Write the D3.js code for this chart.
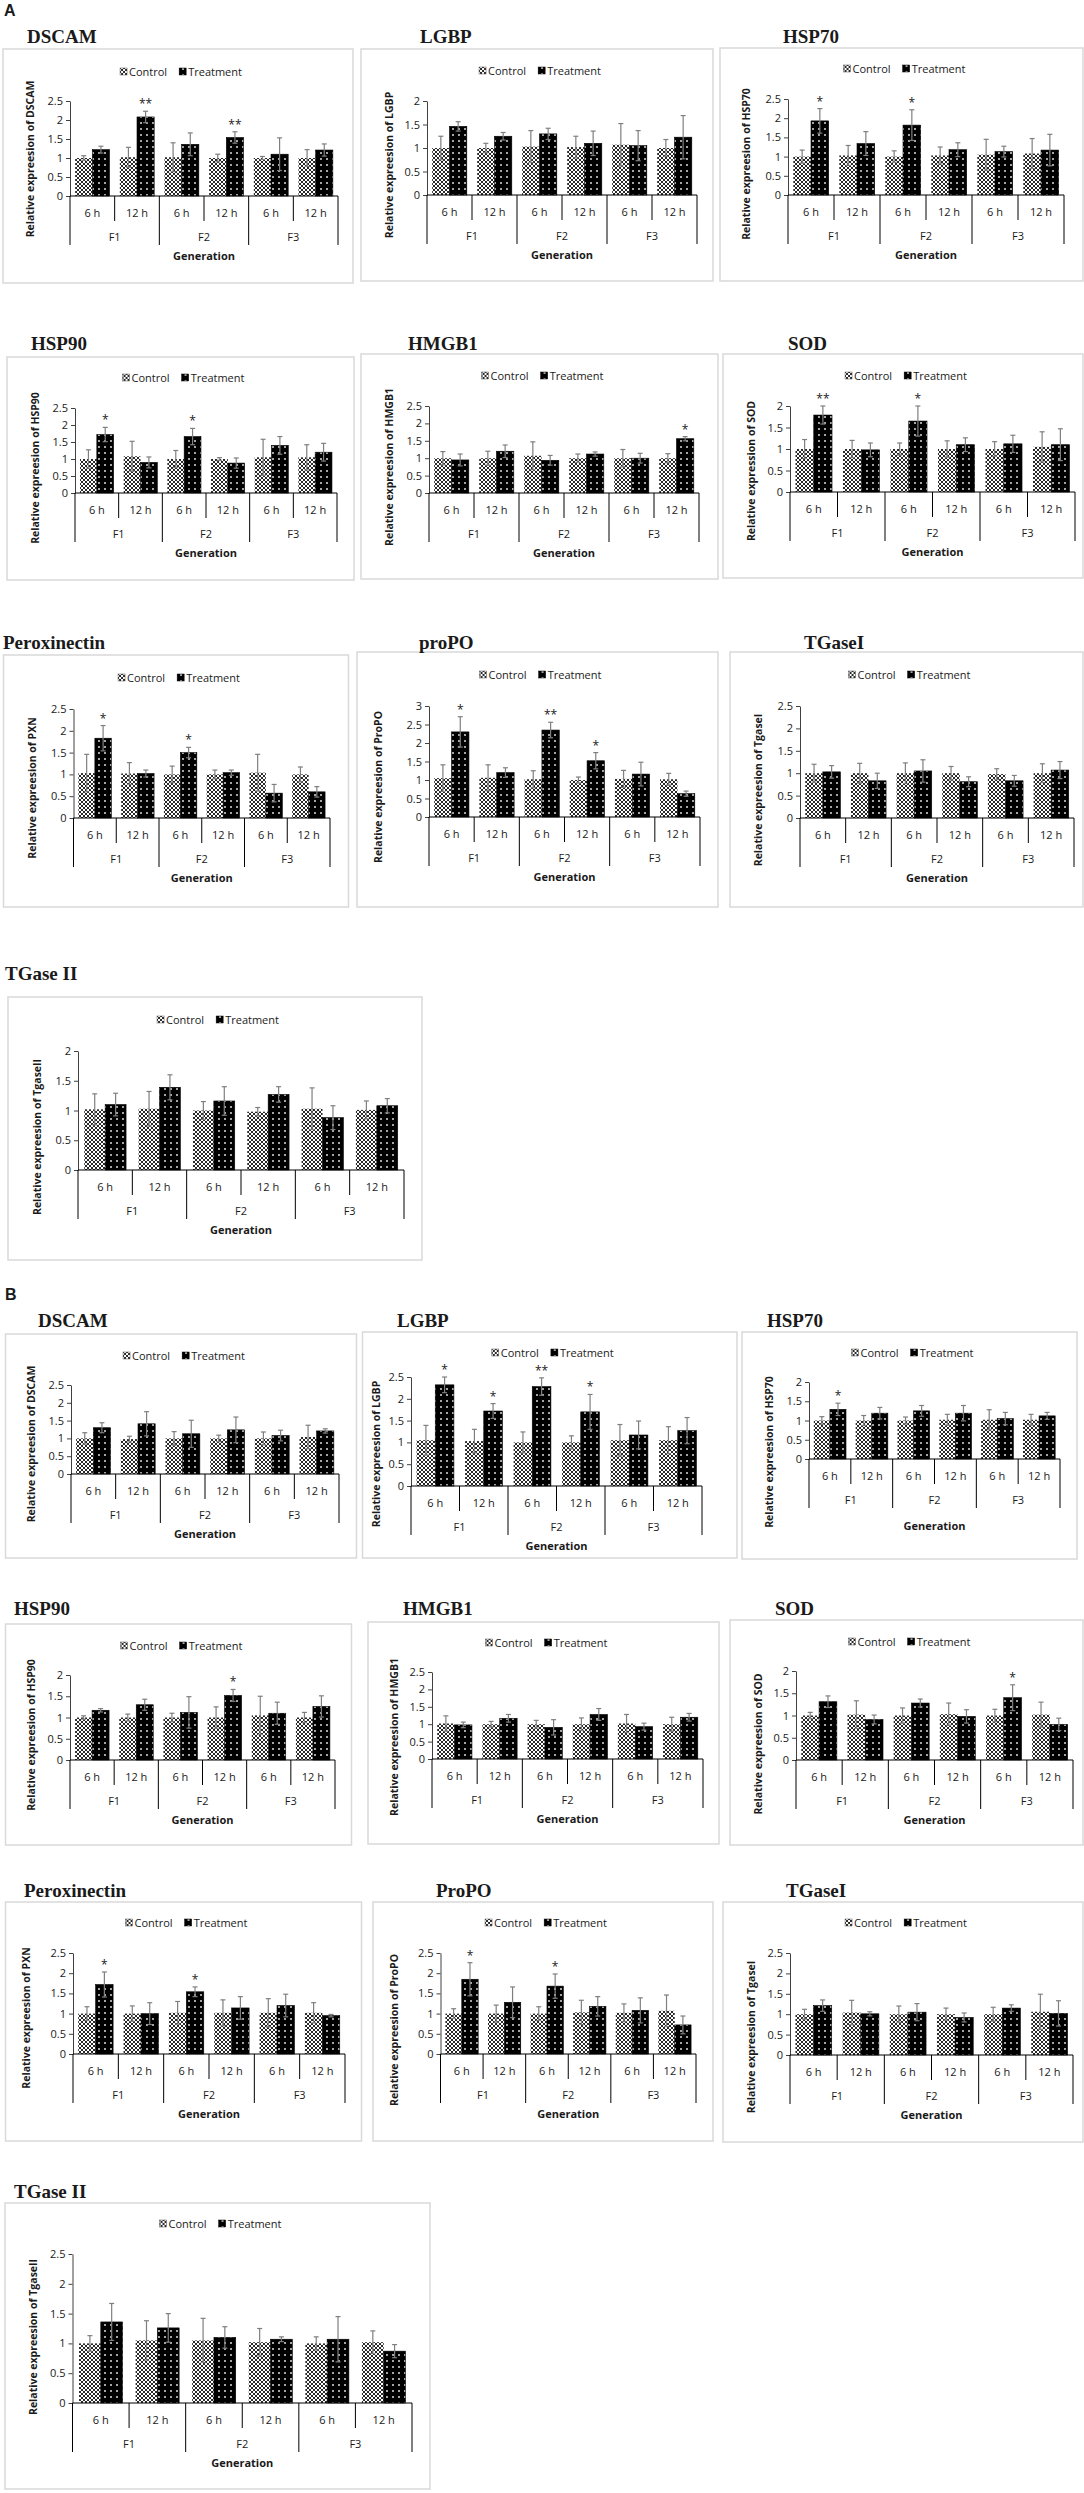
<!DOCTYPE html>
<html>
<head>
<meta charset="utf-8">
<script src="https://cdn.jsdelivr.net/npm/d3@7"></script>
<style>
body { margin: 0; background: #fff; }
svg { display: block; }
text { font-family: "Open Sans", "Liberation Sans", sans-serif; fill: #1a1a1a; }
.ttl { font-family: "Liberation Serif", "Times New Roman", serif; font-weight: bold; font-size: 19px; }
</style>
</head>
<body>
<svg id="chart"></svg>
<script>
// category labels
const hours = ["6 h", "12 h", "6 h", "12 h", "6 h", "12 h"];
const generations = ["F1", "F2", "F3"];
const series = ["Control", "Treatment"];

// ---- panel A ----
const aDscamCtrl = [1.0, 1.02, 1.02, 1.0, 1.0, 1.0];
const aDscamCtrlErr = [0.06, 0.26, 0.38, 0.1, 0.04, 0.22];
const aDscamTrt = [1.22, 2.08, 1.36, 1.54, 1.1, 1.21];
const aDscamTrtErr = [0.09, 0.15, 0.3, 0.15, 0.43, 0.16];
const aDscamSig = ["", "**", "", "**", "", ""];

const aLgbpCtrl = [1.0, 1.0, 1.03, 1.02, 1.07, 1.0];
const aLgbpCtrlErr = [0.25, 0.1, 0.34, 0.23, 0.45, 0.18];
const aLgbpTrt = [1.46, 1.25, 1.3, 1.1, 1.05, 1.23];
const aLgbpTrtErr = [0.1, 0.08, 0.12, 0.26, 0.32, 0.46];
const aLgbpSig = ["", "", "", "", "", ""];

const aHsp70Ctrl = [1.0, 1.03, 1.0, 1.03, 1.05, 1.08];
const aHsp70CtrlErr = [0.17, 0.26, 0.15, 0.22, 0.4, 0.39];
const aHsp70Trt = [1.93, 1.34, 1.82, 1.18, 1.13, 1.17];
const aHsp70TrtErr = [0.32, 0.31, 0.4, 0.18, 0.14, 0.41];
const aHsp70Sig = ["*", "", "*", "", "", ""];

const aHsp90Ctrl = [1.0, 1.08, 1.0, 1.0, 1.05, 1.05];
const aHsp90CtrlErr = [0.27, 0.44, 0.25, 0.04, 0.53, 0.37];
const aHsp90Trt = [1.72, 0.9, 1.66, 0.88, 1.4, 1.2];
const aHsp90TrtErr = [0.21, 0.16, 0.24, 0.15, 0.26, 0.26];
const aHsp90Sig = ["*", "", "*", "", "", ""];

const aHmgb1Ctrl = [1.0, 1.0, 1.07, 1.0, 1.0, 1.0];
const aHmgb1CtrlErr = [0.19, 0.2, 0.4, 0.12, 0.25, 0.13];
const aHmgb1Trt = [0.95, 1.2, 0.94, 1.12, 1.0, 1.56];
const aHmgb1TrtErr = [0.17, 0.18, 0.14, 0.06, 0.14, 0.06];
const aHmgb1Sig = ["", "", "", "", "", "*"];

const aSodCtrl = [1.0, 1.0, 1.0, 1.0, 1.0, 1.05];
const aSodCtrlErr = [0.22, 0.2, 0.14, 0.19, 0.17, 0.35];
const aSodTrt = [1.79, 0.98, 1.65, 1.1, 1.12, 1.1];
const aSodTrtErr = [0.21, 0.16, 0.35, 0.16, 0.2, 0.37];
const aSodSig = ["**", "", "*", "", "", ""];

const aPxnCtrl = [1.03, 1.02, 1.0, 1.0, 1.04, 1.0];
const aPxnCtrlErr = [0.43, 0.25, 0.19, 0.1, 0.42, 0.17];
const aPxnTrt = [1.83, 1.02, 1.5, 1.04, 0.57, 0.6];
const aPxnTrtErr = [0.29, 0.08, 0.12, 0.06, 0.2, 0.12];
const aPxnSig = ["*", "", "*", "", "", ""];

const aPropoCtrl = [1.05, 1.06, 1.02, 1.0, 1.03, 1.02];
const aPropoCtrlErr = [0.36, 0.35, 0.23, 0.08, 0.23, 0.16];
const aPropoTrt = [2.3, 1.2, 2.35, 1.52, 1.16, 0.63];
const aPropoTrtErr = [0.41, 0.13, 0.21, 0.22, 0.32, 0.07];
const aPropoSig = ["*", "", "**", "*", "", ""];

const aTg1Ctrl = [1.0, 1.0, 1.0, 1.0, 0.98, 1.0];
const aTg1CtrlErr = [0.2, 0.22, 0.23, 0.15, 0.12, 0.21];
const aTg1Trt = [1.03, 0.83, 1.05, 0.81, 0.83, 1.07];
const aTg1TrtErr = [0.14, 0.17, 0.25, 0.11, 0.12, 0.19];
const aTg1Sig = ["", "", "", "", "", ""];

const aTg2Ctrl = [1.02, 1.03, 1.0, 0.98, 1.03, 1.01];
const aTg2CtrlErr = [0.26, 0.29, 0.15, 0.07, 0.35, 0.15];
const aTg2Trt = [1.1, 1.39, 1.16, 1.27, 0.88, 1.08];
const aTg2TrtErr = [0.19, 0.21, 0.24, 0.13, 0.2, 0.12];
const aTg2Sig = ["", "", "", "", "", ""];

// ---- panel B ----
const bDscamCtrl = [1.0, 0.98, 1.0, 1.0, 1.0, 1.04];
const bDscamCtrlErr = [0.16, 0.08, 0.19, 0.09, 0.18, 0.33];
const bDscamTrt = [1.3, 1.41, 1.13, 1.24, 1.08, 1.21];
const bDscamTrtErr = [0.14, 0.34, 0.38, 0.36, 0.15, 0.06];
const bDscamSig = ["", "", "", "", "", ""];

const bLgbpCtrl = [1.05, 1.03, 1.0, 1.0, 1.05, 1.05];
const bLgbpCtrlErr = [0.34, 0.27, 0.24, 0.15, 0.36, 0.31];
const bLgbpTrt = [2.32, 1.72, 2.28, 1.7, 1.17, 1.27];
const bLgbpTrtErr = [0.18, 0.17, 0.2, 0.4, 0.32, 0.3];
const bLgbpSig = ["*", "*", "**", "*", "", ""];

const bHsp70Ctrl = [1.0, 1.0, 1.0, 1.02, 1.02, 1.02];
const bHsp70CtrlErr = [0.1, 0.13, 0.09, 0.14, 0.26, 0.14];
const bHsp70Trt = [1.29, 1.19, 1.25, 1.19, 1.05, 1.12];
const bHsp70TrtErr = [0.16, 0.15, 0.14, 0.2, 0.16, 0.09];
const bHsp70Sig = ["*", "", "", "", "", ""];

const bHsp90Ctrl = [1.0, 1.0, 1.0, 1.0, 1.05, 1.0];
const bHsp90CtrlErr = [0.04, 0.08, 0.1, 0.25, 0.45, 0.12];
const bHsp90Trt = [1.17, 1.3, 1.12, 1.52, 1.1, 1.26];
const bHsp90TrtErr = [0.04, 0.13, 0.37, 0.14, 0.26, 0.25];
const bHsp90Sig = ["", "", "", "*", "", ""];

const bHmgb1Ctrl = [1.02, 1.0, 1.0, 1.0, 1.02, 1.0];
const bHmgb1CtrlErr = [0.22, 0.08, 0.11, 0.18, 0.26, 0.2];
const bHmgb1Trt = [0.98, 1.17, 0.91, 1.28, 0.93, 1.2];
const bHmgb1TrtErr = [0.08, 0.11, 0.22, 0.17, 0.1, 0.11];
const bHmgb1Sig = ["", "", "", "", "", ""];

const bSodCtrl = [1.0, 1.02, 1.0, 1.03, 1.0, 1.02];
const bSodCtrlErr = [0.07, 0.31, 0.17, 0.25, 0.14, 0.28];
const bSodTrt = [1.31, 0.91, 1.28, 0.98, 1.4, 0.8];
const bSodTrtErr = [0.13, 0.1, 0.09, 0.15, 0.29, 0.14];
const bSodSig = ["", "", "", "", "*", ""];

const bPxnCtrl = [1.0, 1.0, 1.02, 1.02, 1.02, 1.02];
const bPxnCtrlErr = [0.17, 0.19, 0.28, 0.32, 0.35, 0.25];
const bPxnTrt = [1.72, 1.0, 1.54, 1.14, 1.2, 0.95];
const bPxnTrtErr = [0.31, 0.27, 0.12, 0.28, 0.28, 0.03];
const bPxnSig = ["*", "", "*", "", "", ""];

const bPropoCtrl = [1.0, 1.0, 1.0, 1.03, 1.02, 1.07];
const bPropoCtrlErr = [0.12, 0.21, 0.17, 0.3, 0.22, 0.39];
const bPropoTrt = [1.85, 1.28, 1.68, 1.18, 1.08, 0.72];
const bPropoTrtErr = [0.41, 0.38, 0.3, 0.24, 0.31, 0.22];
const bPropoSig = ["*", "", "*", "", "", ""];

const bTg1Ctrl = [1.0, 1.04, 1.0, 1.0, 1.0, 1.06];
const bTg1CtrlErr = [0.12, 0.3, 0.2, 0.15, 0.17, 0.43];
const bTg1Trt = [1.21, 1.01, 1.05, 0.92, 1.15, 1.02];
const bTg1TrtErr = [0.14, 0.05, 0.21, 0.11, 0.08, 0.31];
const bTg1Sig = ["", "", "", "", "", ""];

const bTg2Ctrl = [1.0, 1.05, 1.05, 1.02, 1.0, 1.02];
const bTg2CtrlErr = [0.13, 0.33, 0.37, 0.23, 0.11, 0.19];
const bTg2Trt = [1.36, 1.26, 1.1, 1.07, 1.07, 0.87];
const bTg2TrtErr = [0.31, 0.24, 0.18, 0.04, 0.38, 0.11];
const bTg2Sig = ["", "", "", "", "", ""];

// which arrays go in which panel
const panels = [
  { title: "DSCAM", ytitle: "Relative expreesion of DSCAM", v: [aDscamCtrl, aDscamTrt], e: [aDscamCtrlErr, aDscamTrtErr], sig: aDscamSig, yMax: 2.5 },
  { title: "LGBP", ytitle: "Relative expreesion of LGBP", v: [aLgbpCtrl, aLgbpTrt], e: [aLgbpCtrlErr, aLgbpTrtErr], sig: aLgbpSig, yMax: 2 },
  { title: "HSP70", ytitle: "Relative expreesion of HSP70", v: [aHsp70Ctrl, aHsp70Trt], e: [aHsp70CtrlErr, aHsp70TrtErr], sig: aHsp70Sig, yMax: 2.5 },
  { title: "HSP90", ytitle: "Relative expreesion of HSP90", v: [aHsp90Ctrl, aHsp90Trt], e: [aHsp90CtrlErr, aHsp90TrtErr], sig: aHsp90Sig, yMax: 2.5 },
  { title: "HMGB1", ytitle: "Relative expreesion of HMGB1", v: [aHmgb1Ctrl, aHmgb1Trt], e: [aHmgb1CtrlErr, aHmgb1TrtErr], sig: aHmgb1Sig, yMax: 2.5 },
  { title: "SOD", ytitle: "Relative expression of SOD", v: [aSodCtrl, aSodTrt], e: [aSodCtrlErr, aSodTrtErr], sig: aSodSig, yMax: 2 },
  { title: "Peroxinectin", ytitle: "Relative expreesion of PXN", v: [aPxnCtrl, aPxnTrt], e: [aPxnCtrlErr, aPxnTrtErr], sig: aPxnSig, yMax: 2.5 },
  { title: "proPO", ytitle: "Relative expreesion of ProPO", v: [aPropoCtrl, aPropoTrt], e: [aPropoCtrlErr, aPropoTrtErr], sig: aPropoSig, yMax: 3 },
  { title: "TGaseI", ytitle: "Relative expreesion of TgaseI", v: [aTg1Ctrl, aTg1Trt], e: [aTg1CtrlErr, aTg1TrtErr], sig: aTg1Sig, yMax: 2.5 },
  { title: "TGase II", ytitle: "Relative expreesion of TgaseII", v: [aTg2Ctrl, aTg2Trt], e: [aTg2CtrlErr, aTg2TrtErr], sig: aTg2Sig, yMax: 2 },
  { title: "DSCAM", ytitle: "Relative expreesion of DSCAM", v: [bDscamCtrl, bDscamTrt], e: [bDscamCtrlErr, bDscamTrtErr], sig: bDscamSig, yMax: 2.5 },
  { title: "LGBP", ytitle: "Relative expreesion of LGBP", v: [bLgbpCtrl, bLgbpTrt], e: [bLgbpCtrlErr, bLgbpTrtErr], sig: bLgbpSig, yMax: 2.5 },
  { title: "HSP70", ytitle: "Relative expreesion of HSP70", v: [bHsp70Ctrl, bHsp70Trt], e: [bHsp70CtrlErr, bHsp70TrtErr], sig: bHsp70Sig, yMax: 2 },
  { title: "HSP90", ytitle: "Relative expreesion of HSP90", v: [bHsp90Ctrl, bHsp90Trt], e: [bHsp90CtrlErr, bHsp90TrtErr], sig: bHsp90Sig, yMax: 2 },
  { title: "HMGB1", ytitle: "Relative expreesion of HMGB1", v: [bHmgb1Ctrl, bHmgb1Trt], e: [bHmgb1CtrlErr, bHmgb1TrtErr], sig: bHmgb1Sig, yMax: 2.5 },
  { title: "SOD", ytitle: "Relative expreesion of SOD", v: [bSodCtrl, bSodTrt], e: [bSodCtrlErr, bSodTrtErr], sig: bSodSig, yMax: 2 },
  { title: "Peroxinectin", ytitle: "Relative expreesion of PXN", v: [bPxnCtrl, bPxnTrt], e: [bPxnCtrlErr, bPxnTrtErr], sig: bPxnSig, yMax: 2.5 },
  { title: "ProPO", ytitle: "Relative expreesion of ProPO", v: [bPropoCtrl, bPropoTrt], e: [bPropoCtrlErr, bPropoTrtErr], sig: bPropoSig, yMax: 2.5 },
  { title: "TGaseI", ytitle: "Relative expreesion of TgaseI", v: [bTg1Ctrl, bTg1Trt], e: [bTg1CtrlErr, bTg1TrtErr], sig: bTg1Sig, yMax: 2.5 },
  { title: "TGase II", ytitle: "Relative expreesion of TgaseII", v: [bTg2Ctrl, bTg2Trt], e: [bTg2CtrlErr, bTg2TrtErr], sig: bTg2Sig, yMax: 2.5 }
];

// layout: box [x,y,w,h], title [x,baseline], plot [left,right,top,zero], legend y, y-title x / centre
const layout = [
  { box: [3, 49, 350, 234], t: [27, 43], p: [70, 338, 101, 196], leg: 72, tx: 30, ty: 159 },
  { box: [361, 49, 352, 232], t: [420, 43], p: [427, 697, 101, 195], leg: 71, tx: 389, ty: 165 },
  { box: [720, 48, 363, 233], t: [783, 43], p: [788, 1064, 99, 195], leg: 69, tx: 746, ty: 164 },
  { box: [7, 357, 347, 223], t: [31, 350], p: [75, 337, 408, 493], leg: 378, tx: 35, ty: 468 },
  { box: [361, 354, 357, 225], t: [408, 350], p: [429, 699, 406, 493], leg: 376, tx: 389, ty: 467 },
  { box: [723, 354, 360, 224], t: [788, 350], p: [790, 1075, 406, 492], leg: 376, tx: 751, ty: 471 },
  { box: [3.5, 655, 345, 252], t: [3, 649], p: [73.5, 330, 709, 818], leg: 678, tx: 31.5, ty: 788 },
  { box: [357, 652, 361, 255], t: [419, 649], p: [429, 700, 706, 817], leg: 675, tx: 378, ty: 787 },
  { box: [730, 652, 353, 255], t: [804, 649], p: [800, 1074, 706, 818], leg: 675, tx: 758, ty: 790 },
  { box: [8, 997, 414, 263], t: [5, 980], p: [78, 404, 1051, 1170], leg: 1020, tx: 37, ty: 1137 },
  { box: [5.5, 1334, 351, 224], t: [38, 1327], p: [71, 339, 1385, 1474], leg: 1356, tx: 31, ty: 1444 },
  { box: [362.5, 1332, 374.5, 226], t: [397, 1327], p: [411, 702, 1377, 1486], leg: 1353, tx: 376, ty: 1454 },
  { box: [742, 1332, 335, 227], t: [767, 1327], p: [809, 1060, 1382, 1459], leg: 1353, tx: 769, ty: 1452, gy: 67 },
  { box: [5.5, 1624, 346, 221], t: [14, 1615], p: [70, 335, 1675, 1760], leg: 1646, tx: 31, ty: 1735 },
  { box: [368, 1622, 351, 222], t: [403, 1615], p: [432, 703, 1672, 1759], leg: 1643, tx: 394, ty: 1737 },
  { box: [730, 1620, 353, 225], t: [775, 1615], p: [796, 1073, 1671, 1760], leg: 1642, tx: 758, ty: 1744 },
  { box: [5.5, 1902, 356, 239], t: [24, 1897], p: [73, 345, 1953, 2054], leg: 1923, tx: 26, ty: 2018 },
  { box: [373, 1902, 340, 239], t: [436, 1897], p: [440.5, 696, 1953, 2054], leg: 1923, tx: 394, ty: 2030 },
  { box: [723, 1902, 360, 240], t: [786, 1897], p: [790, 1073, 1953, 2055], leg: 1923, tx: 751, ty: 2037 },
  { box: [5, 2203, 425, 286], t: [14, 2198], p: [72.5, 412, 2254, 2403], leg: 2224, tx: 33, ty: 2337 }
];

const W = 1084, H = 2493;
const svg = d3.select("#chart").attr("width", W).attr("height", H);

// fill patterns: lattice for Control, dotted black for Treatment
const defs = svg.append("defs");
const pc = defs.append("pattern").attr("id", "ctrlPat")
  .attr("patternUnits", "userSpaceOnUse").attr("width", 4).attr("height", 4);
pc.append("rect").attr("width", 4).attr("height", 4).attr("fill", "#fff");
pc.append("path").attr("d", "M0,0L4,4M4,0L0,4").attr("stroke", "#111").attr("stroke-width", 0.9);
const pt = defs.append("pattern").attr("id", "trtPat")
  .attr("patternUnits", "userSpaceOnUse").attr("width", 6).attr("height", 6);
pt.append("rect").attr("width", 6).attr("height", 6).attr("fill", "#000");
pt.append("rect").attr("x", 2.2).attr("y", 2.2).attr("width", 1.6).attr("height", 1.6).attr("fill", "#fff");
const fills = ["url(#ctrlPat)", "url(#trtPat)"];

svg.append("text").attr("x", 4).attr("y", 16).text("A")
  .style("font-family", "Liberation Sans, Arial, sans-serif").style("font-weight", "bold").style("font-size", "16px");
svg.append("text").attr("x", 5).attr("y", 1300).text("B")
  .style("font-family", "Liberation Sans, Arial, sans-serif").style("font-weight", "bold").style("font-size", "16px");

const keys = hours.map((h, i) => generations[Math.floor(i / 2)] + " " + h);

panels.forEach((d, k) => {
  const L = layout[k];
  const g = svg.append("g");
  const [bx, by, bw, bh] = L.box;
  const [x0, x1, yTop, yZero] = L.p;

  g.append("rect").attr("x", bx).attr("y", by).attr("width", bw).attr("height", bh)
    .attr("fill", "#fff").attr("stroke", "#d9d9d9").attr("stroke-width", 1.5);
  g.append("text").attr("class", "ttl").attr("x", L.t[0]).attr("y", L.t[1]).text(d.title);

  const x = d3.scaleBand().domain(keys).range([x0, x1]).padding(0);
  const xs = d3.scaleBand().domain(series).range([0, x.bandwidth()]).paddingInner(0).paddingOuter(0.3);
  const y = d3.scaleLinear().domain([0, d.yMax]).range([yZero, yTop]);

  // bars
  series.forEach((s, si) => {
    g.append("g").selectAll("rect").data(d.v[si]).join("rect")
      .attr("x", (v, i) => x(keys[i]) + xs(s))
      .attr("y", v => y(v))
      .attr("width", xs.bandwidth())
      .attr("height", v => y(0) - y(v))
      .attr("fill", fills[si])
      .attr("stroke", si === 1 ? "#000" : "none").attr("stroke-width", 0.6);
  });

  // error bars
  series.forEach((s, si) => {
    const eg = g.append("g").attr("stroke", "#7f7f7f").attr("stroke-width", 1.2);
    d.v[si].forEach((v, i) => {
      const cx = x(keys[i]) + xs(s) + xs.bandwidth() / 2;
      const hi = y(v + d.e[si][i]), lo = y(v - d.e[si][i]);
      eg.append("line").attr("x1", cx).attr("x2", cx).attr("y1", hi).attr("y2", lo);
      eg.append("line").attr("x1", cx - 2.5).attr("x2", cx + 2.5).attr("y1", hi).attr("y2", hi);
      eg.append("line").attr("x1", cx - 2.5).attr("x2", cx + 2.5).attr("y1", lo).attr("y2", lo);
    });
  });

  // significance stars above treatment bars
  g.append("g").selectAll("text").data(d.sig).join("text")
    .attr("x", (s, i) => x(keys[i]) + xs("Treatment") + xs.bandwidth() / 2)
    .attr("y", (s, i) => y(d.v[1][i] + d.e[1][i]) - 3)
    .attr("text-anchor", "middle").style("font-size", "12px")
    .text(s => s);

  // y axis
  const ya = g.append("g").attr("transform", `translate(${x0},0)`)
    .call(d3.axisLeft(y).tickValues(d3.range(0, d.yMax + 0.01, 0.5)).tickSize(4).tickSizeOuter(0).tickPadding(3).tickFormat(v => v));
  ya.selectAll("text").style("font-size", "11px").attr("fill", "#1a1a1a");
  ya.selectAll("line, path").attr("stroke", "#404040");

  // x axis with two-level category labels
  g.append("line").attr("x1", x0).attr("x2", x1).attr("y1", yZero).attr("y2", yZero)
    .attr("stroke", "#000").attr("stroke-width", 1);
  const bounds = keys.map(kk => x(kk)).concat([x1]);
  g.append("g").selectAll("line").data(bounds).join("line")
    .attr("x1", b => b).attr("x2", b => b)
    .attr("y1", yZero)
    .attr("y2", (b, i) => yZero + (i % 2 === 0 ? 49 : 25))
    .attr("stroke", "#000").attr("stroke-width", 1);
  g.append("g").selectAll("text").data(hours).join("text")
    .attr("x", (h, i) => x(keys[i]) + x.bandwidth() / 2)
    .attr("y", yZero + 21).attr("text-anchor", "middle").style("font-size", "11px").text(h => h);
  g.append("g").selectAll("text").data(generations).join("text")
    .attr("x", (gn, i) => x(keys[i * 2]) + x.bandwidth())
    .attr("y", yZero + 45).attr("text-anchor", "middle").style("font-size", "11px").text(gn => gn);
  g.append("text").attr("x", (x0 + x1) / 2).attr("y", yZero + (L.gy || 60) + 4)
    .attr("text-anchor", "middle").style("font-size", "11px").style("font-weight", "bold").text("Generation");

  // y title
  g.append("text").attr("transform", `translate(${L.tx + 4},${L.ty}) rotate(-90)`)
    .attr("text-anchor", "middle").style("font-size", "10.5px").style("font-weight", "bold")
    .text(d.ytitle);

  // legend
  const lg = g.append("g");
  let lx = 0;
  series.forEach((s, si) => {
    lg.append("rect").attr("x", lx).attr("y", -4).attr("width", 7).attr("height", 7)
      .attr("fill", fills[si]).attr("stroke", si === 1 ? "#000" : "#555").attr("stroke-width", 0.5);
    const t = lg.append("text").attr("x", lx + 9).attr("y", 4).style("font-size", "11px").text(s);
    lx += 9 + t.node().getComputedTextLength() + 12;
  });
  lx -= 12;
  lg.attr("transform", `translate(${bx + bw / 2 + 3 - lx / 2},${L.leg})`);
});
</script>
</body>
</html>
